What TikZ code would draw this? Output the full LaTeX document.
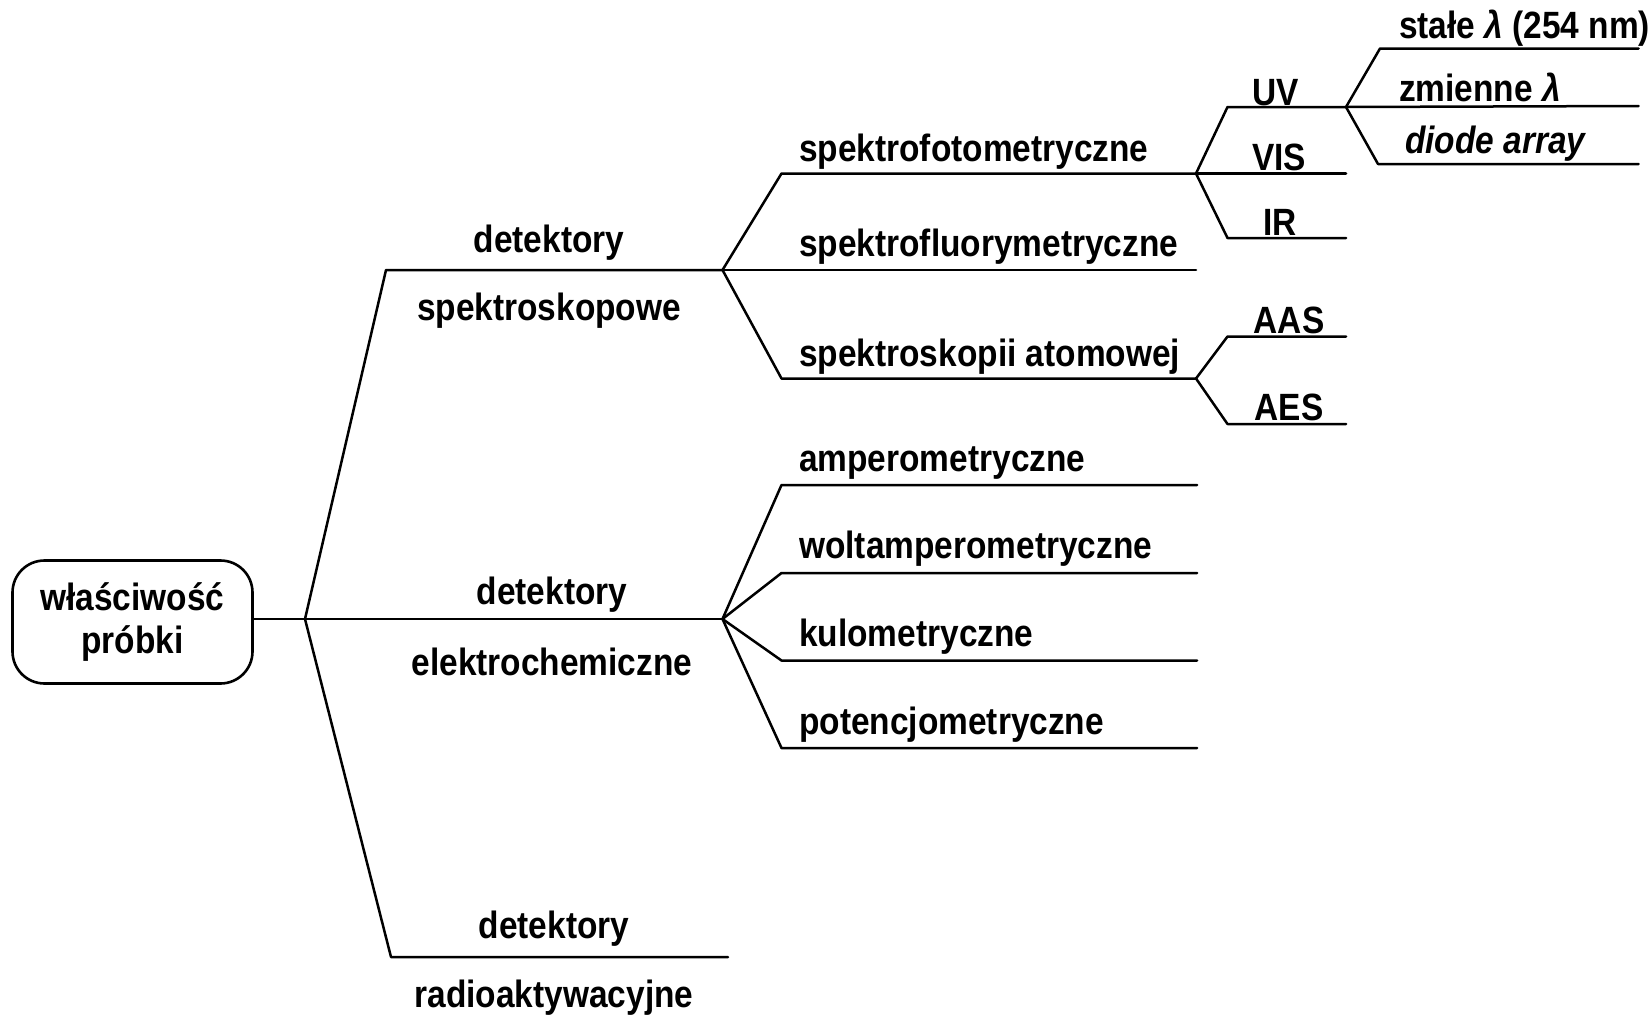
\documentclass[tikz,border=0pt]{standalone}
\usepackage{fontspec}
\newfontfamily\lbl[FakeStretch=0.88]{Liberation Sans}
\begin{document}
\begin{tikzpicture}[x=1pt,y=-1pt,
  br/.style={line width=2.5pt,line cap=round,line join=round},
  txt/.style={font=\lbl\bfseries\fontsize{38}{44}\selectfont,inner sep=0pt,yshift=-3pt},
  lt/.style={txt,anchor=west},
  rootbox/.style={txt,yshift=3pt,draw,line width=2.6pt,rounded corners=32pt,minimum width=240pt,minimum height=123pt,align=center}]
\useasboundingbox (0,0) rectangle (1649,1015);
% root
\node[rootbox] (root) at (132.5,622) {właściwość\\[-1pt]próbki};
\coordinate (J0) at (305,619);
% level 1
\coordinate (c1a) at (386,270);  \coordinate (S0) at (722.5,270);
\coordinate (E0) at (722.5,619);
\coordinate (c1c) at (391,957);  \coordinate (R1) at (728,957);
\draw[br] (root.east |- J0) -- (J0);
\draw[br] (J0) -- (c1a) -- (S0);
\draw[br] (J0) -- (E0);
\draw[br] (J0) -- (c1c) -- (R1);
\node[txt] (t1a) at (549,240) {detektory};
\node[txt] (t1b) at (549,308) {spektroskopowe};
\node[txt] (t2a) at (552,592) {detektory};
\node[txt] (t2b) at (552,659) {elektrochemiczne};
\node[txt] (t3a) at (554,926) {detektory};
\node[txt] (t3b) at (554,995) {radioaktywacyjne};
% spectroscopic
\coordinate (s1c) at (781.5,173.5); \coordinate (U0) at (1196,173.5);
\coordinate (s2e) at (1196,270);
\coordinate (s3c) at (781.5,378.5); \coordinate (A0) at (1196,378.5);
\draw[br] (S0) -- (s1c) -- (U0);
\draw[br] (S0) -- (s2e);
\draw[br] (S0) -- (s3c) -- (A0);
\node[lt] (sp1) at (799,149) {spektrofotometryczne};
\node[lt] (sp2) at (799,244) {spektrofluorymetryczne};
\node[lt] (sp3) at (799,354) {spektroskopii atomowej};
% UV/VIS/IR
\coordinate (u1c) at (1227.5,107); \coordinate (V0) at (1346,107);
\coordinate (u2e) at (1346,173.5);
\coordinate (u3c) at (1227.5,238); \coordinate (u3e) at (1346,238);
\draw[br] (U0) -- (u1c) -- (V0);
\draw[br] (U0) -- (u2e);
\draw[br] (U0) -- (u3c) -- (u3e);
\node[txt] (uv) at (1276,90) {UV};
\node[txt] (vis) at (1279,154) {VIS};
\node[txt] (ir) at (1280,219) {IR};
% UV detectors
\coordinate (v1c) at (1380,48.5); \coordinate (v1e) at (1638.5,48.5);
\coordinate (v2e) at (1638.5,106);
\coordinate (v3c) at (1378,164); \coordinate (v3e) at (1638.5,164);
\draw[br] (V0) -- (v1c) -- (v1e);
\draw[br] (V0) -- (v2e);
\draw[br] (V0) -- (v3c) -- (v3e);
\node[lt] (st) at (1399,25) {stałe \textit{λ} (254 nm)};
\node[lt] (zm) at (1399,84) {zmienne \textit{λ}};
\node[lt,font=\lbl\bfseries\itshape\fontsize{38}{44}\selectfont] (da) at (1405,141) {diode array};
% atomic
\coordinate (a1c) at (1227.5,336.5); \coordinate (a1e) at (1346,336.5);
\coordinate (a2c) at (1227.5,424); \coordinate (a2e) at (1346,424);
\draw[br] (A0) -- (a1c) -- (a1e);
\draw[br] (A0) -- (a2c) -- (a2e);
\node[txt] (aas) at (1289,317) {AAS};
\node[txt] (aes) at (1289,404) {AES};
% electrochemical
\coordinate (e1c) at (781.5,485); \coordinate (e1e) at (1197,485);
\coordinate (e2c) at (781.5,573); \coordinate (e2e) at (1197,573);
\coordinate (e3c) at (781.5,660.5); \coordinate (e3e) at (1197,660.5);
\coordinate (e4c) at (781.5,748); \coordinate (e4e) at (1197,748);
\draw[br] (E0) -- (e1c) -- (e1e);
\draw[br] (E0) -- (e2c) -- (e2e);
\draw[br] (E0) -- (e3c) -- (e3e);
\draw[br] (E0) -- (e4c) -- (e4e);
\node[lt] (el1) at (799,460) {amperometryczne};
\node[lt] (el2) at (799,546) {woltamperometryczne};
\node[lt] (el3) at (799,634) {kulometryczne};
\node[lt] (el4) at (799,722) {potencjometryczne};
\end{tikzpicture}
\end{document}
